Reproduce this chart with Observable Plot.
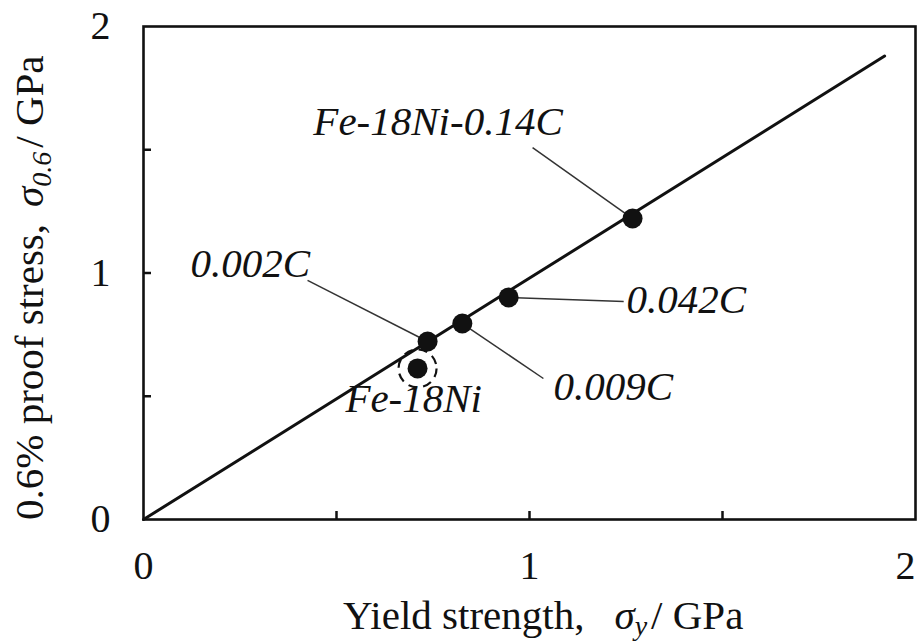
<!DOCTYPE html>
<html>
<head>
<meta charset="utf-8">
<script src="https://cdn.jsdelivr.net/npm/d3@7"></script>
<script src="https://cdn.jsdelivr.net/npm/@observablehq/plot@0.6"></script>
<style>
  body { margin: 0; background: #fff; }
  #chart svg { display: block; }
  #chart svg text { font-family: "Liberation Serif", "Times New Roman", serif; }
</style>
</head>
<body>
<div id="chart"></div>
<script>
// Alloys: yield strength vs 0.6% proof stress (GPa)
const alloys        = ["Fe-18Ni", "0.002C", "0.009C", "0.042C", "Fe-18Ni-0.14C"];
const yieldStrength = [0.710, 0.736, 0.826, 0.946, 1.267];
const proofStress   = [0.613, 0.722, 0.795, 0.901, 1.221];

// Where each alloy name sits (start of text, baseline), in data units
const labelX = [0.523, 0.122, 1.062, 1.251, 0.440];
const labelY = [0.438, 0.982, 0.483, 0.836, 1.558];

// Far end of each leader line (the near end is the point itself)
const leaderX = [null, 0.425, 1.036, 1.244, 1.008];
const leaderY = [null, 0.970, 0.572, 0.884, 1.509];

// Straight reference line through the origin
const fitX = [0, 1.92];
const fitY = [0, 1.88];

const labelTicks = [0, 1, 2];
const minorTicks = [0.5, 1, 1.5];

const serif = "Liberation Serif";
const ink = "#111";
const fmt = d => String(d);

const rows = alloys.map((name, i) => ({
  name,
  x: yieldStrength[i],
  y: proofStress[i],
  lx: labelX[i],
  ly: labelY[i],
  ax: leaderX[i],
  ay: leaderY[i]
}));
const fit = fitX.map((x, i) => ({x, y: fitY[i]}));
const ringed = rows.filter(d => d.name === "Fe-18Ni");
const led = rows.filter(d => d.ax != null);

const chart = Plot.plot({
  width: 920,
  height: 643,
  marginLeft: 143,
  marginRight: 5,
  marginTop: 26,
  marginBottom: 124,
  style: {background: "#fff", color: ink, fontFamily: serif},
  x: {domain: [0, 2]},
  y: {domain: [0, 2]},
  marks: [
    // inward tick marks
    Plot.axisX(minorTicks, {anchor: "bottom", tickSize: 8, dy: -8, strokeWidth: 2.5, tickFormat: () => "", label: null}),
    Plot.axisY(minorTicks, {anchor: "left", tickSize: 8, dx: 8, strokeWidth: 2.5, tickFormat: () => "", label: null}),
    // tick labels
    Plot.axisX(labelTicks.slice(0, 2), {anchor: "bottom", tickSize: 0, tickPadding: 31, fontSize: 40, fontFamily: serif, fill: ink, tickFormat: fmt, label: null}),
    Plot.axisX(labelTicks.slice(2), {anchor: "bottom", tickSize: 0, tickPadding: 31, fontSize: 40, fontFamily: serif, fill: ink, tickFormat: fmt, textAnchor: "end", label: null}),
    Plot.axisY(labelTicks, {anchor: "left", tickSize: 0, tickPadding: 33, fontSize: 40, fontFamily: serif, fill: ink, tickFormat: fmt, label: null}),
    Plot.frame({stroke: ink, strokeWidth: 2.6}),
    Plot.line(fit, {x: "x", y: "y", stroke: ink, strokeWidth: 3}),
    Plot.link(led, {x1: "ax", y1: "ay", x2: "x", y2: "y", stroke: "#333", strokeWidth: 1.5}),
    Plot.dot(ringed, {x: "x", y: "y", r: 19, stroke: ink, strokeWidth: 2.2, strokeDasharray: "9,6", fill: "none"}),
    Plot.dot(rows, {x: "x", y: "y", r: 10, fill: ink, stroke: "none"}),
    Plot.text(rows, {
      x: "lx", y: "ly", text: "name",
      textAnchor: "start", lineAnchor: "bottom",
      fontSize: 41, fontStyle: "italic", fontFamily: serif, fill: ink
    })
  ]
});

document.getElementById("chart").appendChild(chart);

// Axis titles with an italic sigma and subscripts
const svg = d3.select(chart);

const xt = svg.append("text")
  .attr("x", 343).attr("y", 629)
  .attr("text-anchor", "start")
  .attr("font-family", serif).attr("font-size", 41).attr("fill", ink);
xt.append("tspan").text("Yield strength,");
xt.append("tspan").attr("dx", 30).attr("font-style", "italic").text("σ");
xt.append("tspan").attr("font-style", "italic").attr("font-size", 28).attr("dy", 6).text("y");
xt.append("tspan").attr("dy", -6).attr("dx", 4).text("/ GPa");

const yt = svg.append("text")
  .attr("transform", "translate(43,520) rotate(-90)")
  .attr("text-anchor", "start")
  .attr("font-family", serif).attr("font-size", 41).attr("fill", ink);
yt.append("tspan").text("0.6% proof stress,");
yt.append("tspan").attr("dx", 17).attr("font-style", "italic").text("σ");
yt.append("tspan").attr("font-style", "italic").attr("font-size", 28).attr("dy", 8).text("0.6");
yt.append("tspan").attr("dy", -8).attr("dx", 4).text("/ GPa");
</script>
</body>
</html>
